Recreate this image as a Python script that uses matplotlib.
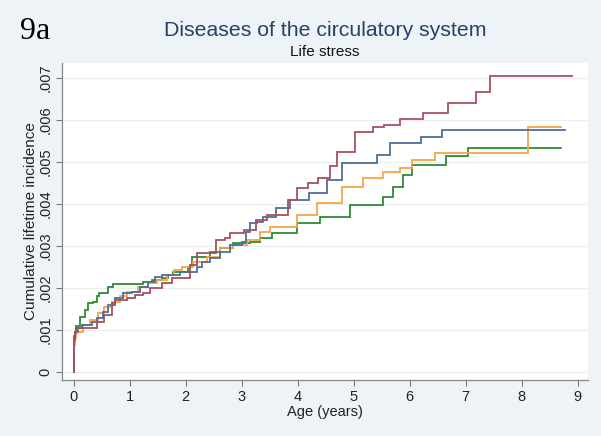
import matplotlib
matplotlib.use("Agg")
import matplotlib.pyplot as plt

# ---- data ----
t_maroon = [0, 0.01, 0.02, 0.07, 0.41, 0.55, 0.68, 0.73, 0.95, 1.09, 1.23, 1.36, 1.57, 1.75,
            2.07, 2.20, 2.55, 2.70, 2.80, 3.05, 3.25, 3.45, 3.82, 3.98, 4.18, 4.36, 4.57, 4.70,
            5.02, 5.34, 5.55, 5.82, 6.23, 6.68, 7.18, 7.43, 8.89]
v_maroon = [0, 0.00076, 0.00095, 0.00105, 0.00120, 0.00136, 0.00164, 0.00171, 0.00176, 0.00183,
            0.00188, 0.00200, 0.00212, 0.00224, 0.00255, 0.00283, 0.00314, 0.00319, 0.00330,
            0.00338, 0.00362, 0.00374, 0.00410, 0.00438, 0.00450, 0.00462, 0.00490, 0.00524,
            0.00571, 0.00583, 0.00588, 0.00602, 0.00618, 0.00640, 0.00667, 0.00705, 0.00705]

t_blue = [0, 0.01, 0.02, 0.05, 0.14, 0.32, 0.41, 0.52, 0.61, 0.73, 0.88, 1.04, 1.18, 1.32, 1.45,
          1.57, 1.89, 2.21, 2.30, 2.43, 2.61, 2.79, 3.00, 3.08, 3.15, 3.27, 3.38, 3.62, 3.86,
          4.21, 4.52, 4.80, 5.41, 5.64, 6.21, 6.58, 8.77]
v_blue = [0, 0.00085, 0.00093, 0.00105, 0.00112, 0.00120, 0.00128, 0.00143, 0.00160, 0.00176,
          0.00188, 0.00190, 0.00202, 0.00214, 0.00226, 0.00231, 0.00238, 0.00250, 0.00262,
          0.00271, 0.00286, 0.00302, 0.00310, 0.00333, 0.00355, 0.00357, 0.00370, 0.00390,
          0.00410, 0.00426, 0.00457, 0.00498, 0.00517, 0.00545, 0.00560, 0.00576, 0.00576]

t_orange = [0, 0.01, 0.02, 0.05, 0.16, 0.29, 0.43, 0.55, 0.68, 0.82, 0.96, 1.14, 1.32, 1.48,
            1.66, 1.80, 1.93, 2.13, 2.38, 2.61, 2.84, 3.09, 3.32, 3.50, 3.98, 4.34, 4.80, 5.16,
            5.52, 5.82, 6.05, 6.45, 8.11, 8.71]
v_orange = [0, 0.00065, 0.00081, 0.00095, 0.00112, 0.00124, 0.00140, 0.00155, 0.00167, 0.00180,
            0.00190, 0.00202, 0.00212, 0.00219, 0.00231, 0.00242, 0.00250, 0.00262, 0.00274,
            0.00295, 0.00302, 0.00314, 0.00333, 0.00345, 0.00374, 0.00402, 0.00440, 0.00462,
            0.00476, 0.00486, 0.00505, 0.00522, 0.00584, 0.00584]

t_green = [0, 0.01, 0.02, 0.05, 0.11, 0.20, 0.25, 0.34, 0.41, 0.46, 0.61, 0.70, 1.23, 1.39,
           1.57, 1.68, 1.77, 2.05, 2.11, 2.43, 2.61, 2.84, 3.14, 3.32, 3.55, 3.98, 4.39, 4.93,
           5.52, 5.70, 5.88, 6.04, 6.65, 7.04, 8.70]
v_green = [0, 0.00070, 0.00095, 0.00110, 0.00130, 0.00148, 0.00164, 0.00167, 0.00180, 0.00188,
           0.00202, 0.00210, 0.00214, 0.00219, 0.00224, 0.00231, 0.00238, 0.00250, 0.00274,
           0.00286, 0.00295, 0.00307, 0.00310, 0.00319, 0.00330, 0.00355, 0.00370, 0.00398,
           0.00417, 0.00440, 0.00469, 0.00493, 0.00515, 0.00533, 0.00533]

x_ticks = [0, 1, 2, 3, 4, 5, 6, 7, 8, 9]
y_ticks = [0, 0.001, 0.002, 0.003, 0.004, 0.005, 0.006, 0.007]
y_labels = ["0", ".001", ".002", ".003", ".004", ".005", ".006", ".007"]

title = "Diseases of the circulatory system"
subtitle = "Life stress"
panel = "9a"

# ---- figure ----
plt.rcParams['font.family'] = ['Liberation Sans', 'DejaVu Sans']
bg = '#edf3f6'
fig = plt.figure(figsize=(6.01, 4.36), dpi=100, facecolor=bg)
ax = fig.add_axes([0.103, 0.1284, 0.875, 0.7271])
ax.set_facecolor('white')

series = [
    (t_green, v_green, '#2f8a36'),
    (t_orange, v_orange, '#f7a447'),
    (t_blue, v_blue, '#4c6f9c'),
    (t_maroon, v_maroon, '#a9505e'),
]
for t, v, c in series:
    ax.plot(t, v, drawstyle='steps-post', color=c, lw=1.3, solid_joinstyle='miter')

ax.set_xlim(-0.21, 9.18)
ax.set_ylim(-0.00019, 0.00736)
ax.set_xticks(x_ticks)
ax.set_xticklabels([str(x) for x in x_ticks])
ax.set_yticks(y_ticks)
ax.set_yticklabels(y_labels, rotation=90, va='center')
ax.tick_params(axis='both', direction='out', length=4, width=0.8, color='#777777',
               labelsize=10.5, labelcolor='#222222', pad=3)
for s in ['top', 'right']:
    ax.spines[s].set_visible(False)
for s in ['left', 'bottom']:
    ax.spines[s].set_color('#888888')
    ax.spines[s].set_linewidth(0.9)
ax.grid(axis='y', color='#eaeeef', lw=0.8)
ax.set_axisbelow(True)

ax.set_xlabel("Age (years)", fontsize=10.5, color='#222222', labelpad=1)
ax.set_ylabel("Cumulative lifetime incidence", fontsize=11, color='#222222', labelpad=0)

fig.text(0.542, 0.931, title, ha='center', va='center', fontsize=15.3, color='#2a4066')
fig.text(0.541, 0.880, subtitle, ha='center', va='center', fontsize=11, color='#111111')
fig.text(0.033, 0.928, panel, ha='left', va='center', fontsize=23,
         family=['Liberation Serif', 'DejaVu Serif'], color='black')

fig.savefig("out.png", dpi=100, facecolor=bg)
